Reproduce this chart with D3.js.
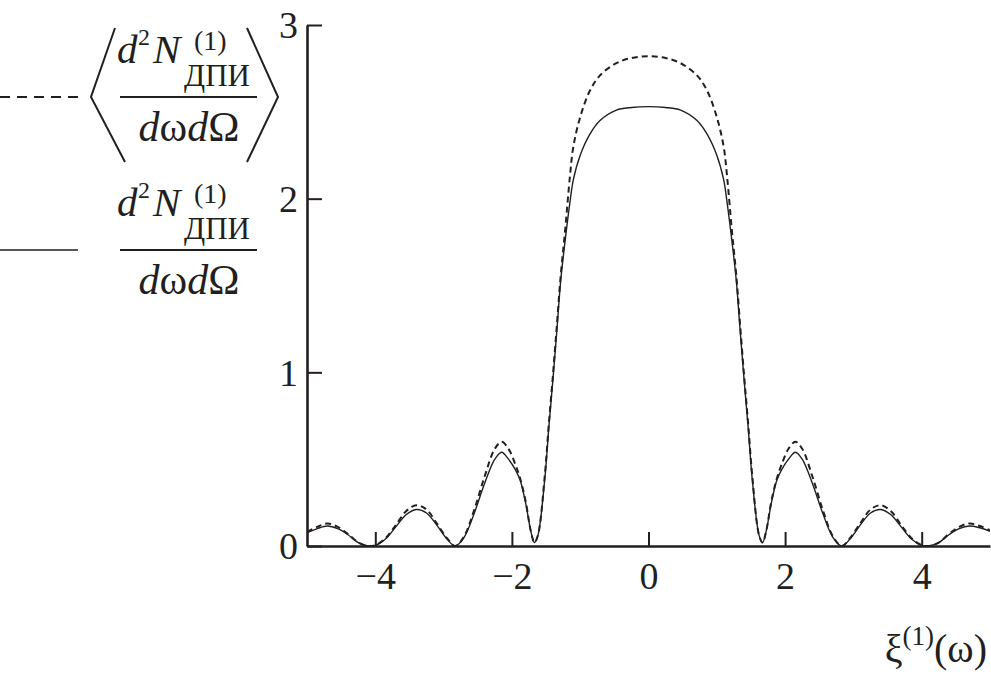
<!DOCTYPE html>
<html>
<head>
<meta charset="utf-8">
<script src="https://cdn.jsdelivr.net/npm/d3@7.9.0/dist/d3.min.js"></script>
<style>
  body { margin: 0; background: #fff; }
  svg { display: block; }
  text { font-family: "Liberation Serif", "Times New Roman", serif; fill: #231f20; }
</style>
</head>
<body>
<svg id="chart" width="991" height="674"></svg>
<script>
// values
const xiValues = [-5, -4.85, -4.7, -4.55, -4.4, -4.25, -4.1, -4.0, -3.85, -3.7,
  -3.55, -3.4, -3.25, -3.1, -2.95, -2.83, -2.7, -2.55, -2.4, -2.25,
  -2.15, -2.05, -1.95, -1.88, -1.8, -1.72, -1.67, -1.62, -1.52, -1.46,
  -1.40, -1.34, -1.285, -1.22, -1.15, -1.10, -1.0, -0.86, -0.71, -0.47,
  -0.25, 0, 0.25, 0.47, 0.71, 0.86, 1.0, 1.10, 1.15, 1.22,
  1.285, 1.34, 1.40, 1.46, 1.52, 1.62, 1.67, 1.72, 1.8, 1.88,
  1.95, 2.05, 2.15, 2.25, 2.4, 2.55, 2.7, 2.83, 2.95, 3.1,
  3.25, 3.4, 3.55, 3.7, 3.85, 4.0, 4.1, 4.25, 4.4, 4.55,
  4.7, 4.85, 5];

// d2N/dwdOmega (solid)
const solidValues = [0.075, 0.10, 0.115, 0.10, 0.065, 0.02, 0.0, 0.003, 0.04, 0.11,
  0.18, 0.21, 0.19, 0.12, 0.04, 0.0, 0.05, 0.19, 0.36, 0.50,
  0.54, 0.50, 0.44, 0.38, 0.25, 0.08, 0.02, 0.06, 0.38, 0.68,
  0.955, 1.25, 1.53, 1.76, 1.98, 2.11, 2.25, 2.37, 2.45, 2.51,
  2.525, 2.53, 2.525, 2.51, 2.45, 2.37, 2.25, 2.11, 1.98, 1.76,
  1.53, 1.25, 0.955, 0.68, 0.38, 0.06, 0.02, 0.08, 0.25, 0.38,
  0.44, 0.50, 0.54, 0.50, 0.36, 0.19, 0.05, 0.0, 0.04, 0.12,
  0.19, 0.21, 0.18, 0.11, 0.04, 0.003, 0.0, 0.02, 0.065, 0.10,
  0.115, 0.105, 0.085];

// <d2N/dwdOmega> (dashed)
const dashedValues = [0.08, 0.11, 0.13, 0.11, 0.07, 0.02, 0.0, 0.005, 0.045, 0.12,
  0.20, 0.235, 0.21, 0.13, 0.045, 0.0, 0.055, 0.21, 0.40, 0.56,
  0.60, 0.56, 0.47, 0.39, 0.26, 0.08, 0.02, 0.06, 0.40, 0.70,
  0.98, 1.28, 1.56, 1.82, 2.13, 2.30, 2.47, 2.62, 2.71, 2.78,
  2.81, 2.82, 2.81, 2.78, 2.71, 2.62, 2.47, 2.30, 2.13, 1.82,
  1.56, 1.28, 0.98, 0.70, 0.40, 0.06, 0.02, 0.08, 0.26, 0.39,
  0.47, 0.56, 0.60, 0.56, 0.40, 0.21, 0.055, 0.0, 0.045, 0.13,
  0.21, 0.235, 0.20, 0.12, 0.045, 0.005, 0.0, 0.02, 0.07, 0.11,
  0.13, 0.115, 0.09];

const xTicks = [-4, -2, 0, 2, 4];
const yTicks = [0, 1, 2, 3];

const ink = '#231f20';
const svg = d3.select('#chart');

let x = d3.scaleLinear().domain([-5, 5]).range([307, 990]);
let y = d3.scaleLinear().domain([0, 3]).range([546, 25]);

// clip so the curves stay inside the plot box
svg.append('clipPath').attr('id', 'plot')
  .append('rect')
  .attr('x', x(-5)).attr('y', 0)
  .attr('width', x(5) - x(-5)).attr('height', y(0));

// curves
let line = (vals) => d3.line()
  .x((d, i) => x(xiValues[i]))
  .y((d) => y(d))
  .curve(d3.curveCatmullRom.alpha(0.5))(vals);

svg.append('path')
  .attr('clip-path', 'url(#plot)')
  .attr('d', line(solidValues))
  .attr('fill', 'none')
  .attr('stroke', ink)
  .attr('stroke-width', 1.4);

svg.append('path')
  .attr('clip-path', 'url(#plot)')
  .attr('d', line(dashedValues))
  .attr('fill', 'none')
  .attr('stroke', ink)
  .attr('stroke-width', 2)
  .attr('stroke-dasharray', '6,4');

// axes
let xAxis = svg.append('g')
  .attr('transform', `translate(0,${y(0)})`)
  .call(d3.axisBottom(x).tickValues(xTicks).tickSize(-14).tickSizeOuter(0).tickPadding(16));
let yAxis = svg.append('g')
  .attr('transform', `translate(${x(-5)},0)`)
  .call(d3.axisLeft(y).tickValues(yTicks).tickFormat(d3.format('d'))
    .tickSize(-15).tickSizeOuter(0).tickPadding(9));

[xAxis, yAxis].forEach((ax) => {
  ax.select('.domain').attr('stroke', ink).attr('stroke-width', 2.6);
  ax.selectAll('.tick line').attr('stroke', ink).attr('stroke-width', 2);
  ax.selectAll('.tick text')
    .attr('font-family', '"Liberation Serif", serif')
    .attr('font-size', 38)
    .attr('fill', ink);
});
yAxis.selectAll('.tick text').attr('dy', '0.34em');

// x axis title
let xt = svg.append('text')
  .attr('x', 987).attr('y', 662)
  .attr('text-anchor', 'end')
  .attr('font-size', 40);
xt.append('tspan').text('ξ');
xt.append('tspan').attr('font-size', 27).attr('dy', -17).text('(1)');
xt.append('tspan').attr('dy', 17).text('(ω)');

// legend
function fraction(barY) {
  let g = svg.append('g');
  g.append('text').attr('x', 117).attr('y', barY - 34).attr('font-size', 41)
    .attr('font-style', 'italic').text('d');
  g.append('text').attr('x', 138).attr('y', barY - 52).attr('font-size', 24).text('2');
  g.append('text').attr('x', 153).attr('y', barY - 34).attr('font-size', 41)
    .attr('font-style', 'italic').text('N');
  g.append('text').attr('x', 194).attr('y', barY - 47).attr('font-size', 28).text('(1)');
  g.append('text').attr('x', 184).attr('y', barY - 11).attr('font-size', 31).text('ДПИ');
  g.append('line')
    .attr('x1', 120).attr('x2', 257).attr('y1', barY).attr('y2', barY)
    .attr('stroke', ink).attr('stroke-width', 2);
  let den = g.append('text').attr('x', 189).attr('y', barY + 44)
    .attr('text-anchor', 'middle').attr('font-size', 42);
  den.append('tspan').attr('font-style', 'italic').text('d');
  den.append('tspan').text('ω');
  den.append('tspan').attr('font-style', 'italic').text('d');
  den.append('tspan').text('Ω');
  return g;
}

fraction(97);
fraction(250);

// angle brackets round the mean value
svg.append('path')
  .attr('d', d3.line()([[115, 28], [91, 97], [125, 162]]))
  .attr('fill', 'none').attr('stroke', ink).attr('stroke-width', 2);
svg.append('path')
  .attr('d', d3.line()([[247, 28], [278, 97], [247, 162]]))
  .attr('fill', 'none').attr('stroke', ink).attr('stroke-width', 2);

// legend line samples
svg.append('line')
  .attr('x1', 0).attr('x2', 78).attr('y1', 97).attr('y2', 97)
  .attr('stroke', ink).attr('stroke-width', 2)
  .attr('stroke-dasharray', '10,7');
svg.append('line')
  .attr('x1', 0).attr('x2', 78).attr('y1', 250).attr('y2', 250)
  .attr('stroke', ink).attr('stroke-width', 1.6);
</script>
</body>
</html>
